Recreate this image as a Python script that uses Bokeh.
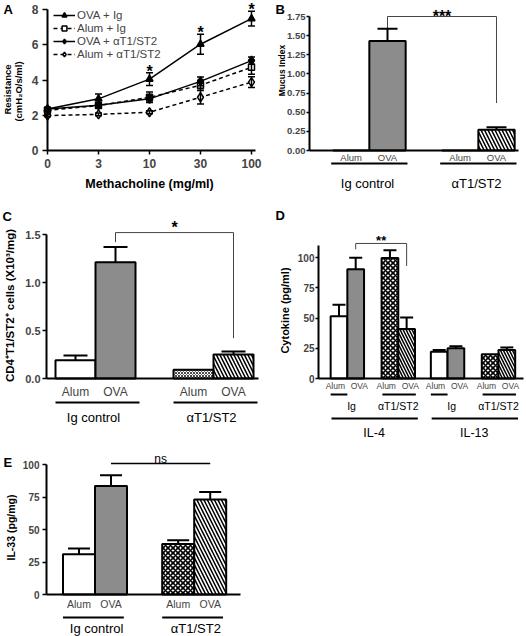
import math
from bokeh.plotting import figure
from bokeh.models import (ColumnDataSource, Range1d, LinearAxis, FixedTicker,
                          NumeralTickFormatter, Whisker, TeeHead, Legend, LegendItem)
from bokeh.layouts import column, row
from bokeh.core.properties import value, field
from bokeh.embed import file_html
from bokeh.resources import INLINE

FONT = "Liberation Sans"
GRAY = "#8c8c8c"

# ---------------- data ----------------
# A: airway resistance vs methacholine dose
doses = ["0", "3", "10", "30", "100"]
ova_ig = [2.35, 2.93, 4.05, 6.03, 7.48]
ova_ig_err = [0.10, 0.28, 0.36, 0.57, 0.42]
alum_ig = [2.28, 2.55, 3.02, 3.70, 4.72]
alum_ig_err = [0.08, 0.15, 0.30, 0.28, 0.40]
ova_at = [2.35, 2.57, 2.93, 3.92, 5.10]
ova_at_err = [0.08, 0.12, 0.18, 0.25, 0.20]
alum_at = [1.98, 2.05, 2.17, 3.02, 3.88]
alum_at_err = [0.06, 0.08, 0.08, 0.38, 0.30]
dose_sig = ["", "", "*", "*", "*"]
series_names = ["OVA + Ig", "Alum + Ig", "OVA + αT1/ST2", "Alum + αT1/ST2"]

conditions = ["Alum", "OVA"]
treatments = ["Ig control", "αT1/ST2"]

# B: mucus index
mucus = [0.0, 1.43, 0.0, 0.27]
mucus_err = [0.0, 0.16, 0.0, 0.035]
# C: CD4+T1/ST2+ cells
cd4 = [0.19, 1.21, 0.09, 0.25]
cd4_err = [0.05, 0.16, 0.0, 0.03]
# D: cytokines
cytokines = ["IL-4", "IL-13"]
treatments_short = ["Ig", "αT1/ST2"]
cytokine = [51.5, 90.3, 99.5, 41.0, 22.2, 24.9, 20.0, 23.5]
cytokine_err = [9.4, 9.5, 6.5, 9.4, 1.3, 1.7, 0.0, 2.2]
# E: IL-33
il33 = [31.0, 83.5, 38.8, 73.0]
il33_err = [4.4, 8.2, 3.0, 5.9]


# ---------------- helpers ----------------
def make_panel(L, T, W, H, px0, dx0, sx, py0, dy0, sy):
    x0 = dx0 - (px0 - L) / sx
    y1 = dy0 + (py0 - T) / sy
    p = figure(width=W, height=H, x_range=Range1d(x0, x0 + W / sx),
               y_range=Range1d(y1 - H / sy, y1), x_axis_type=None, y_axis_type=None,
               toolbar_location=None, output_backend="svg", min_border=0,
               outline_line_color=None)
    fx = lambda px: dx0 + (px - px0) / sx
    fy = lambda py: dy0 + (py0 - py) / sy
    return p, fx, fy


def txt(p, x, y, s, size, bold=False, align="center", baseline="middle", angle=0.0):
    p.text(x=[x], y=[y], text=[s], text_font=value(FONT),
           text_font_size=value(f"{size}px"),
           text_font_style="bold" if bold else "normal",
           text_align=align, text_baseline=baseline, angle=angle, text_color="black")


def y_axis(p, loc, bounds, ticks, fmt, size, tick_out, standoff):
    ax = LinearAxis(fixed_location=loc, bounds=bounds,
                    ticker=FixedTicker(ticks=ticks, minor_ticks=[]),
                    formatter=NumeralTickFormatter(format=fmt))
    ax.major_tick_out = tick_out
    ax.major_tick_in = 0
    ax.minor_tick_out = 0
    ax.minor_tick_in = 0
    ax.axis_line_width = 2
    ax.major_tick_line_width = 1.5
    ax.major_label_text_font = FONT
    ax.major_label_text_font_style = "bold"
    ax.major_label_text_font_size = f"{size}px"
    ax.major_label_standoff = standoff
    p.add_layout(ax, "left")
    return ax


def x_axis(p, bounds, ticks, labels, size, standoff, bold=False, tick_out=0):
    ax = LinearAxis(fixed_location=0, bounds=bounds,
                    ticker=FixedTicker(ticks=ticks, minor_ticks=[]))
    ax.major_label_overrides = {t: l for t, l in zip(ticks, labels)}
    ax.major_tick_out = tick_out
    ax.major_tick_in = 0
    ax.minor_tick_out = 0
    ax.minor_tick_in = 0
    ax.axis_line_width = 2
    ax.major_tick_line_width = 1.5
    ax.major_label_text_font = FONT
    ax.major_label_text_font_style = "bold" if bold else "normal"
    ax.major_label_text_font_size = f"{size}px"
    ax.major_label_standoff = standoff
    p.add_layout(ax, "below")
    return ax


def draw_bars(p, xs, tops, errs, groups, conds, cap, xscale, dscale, xweight=1.6):
    fills, pats, hs, hw = [], [], [], []
    for g, c in zip(groups, conds):
        if g == 0:
            fills.append("white" if c == 0 else GRAY)
            pats.append(" ")
            hs.append(6)
            hw.append(1)
        else:
            fills.append("white")
            if c == 0:
                pats.append("x")
                hs.append(xscale)
                hw.append(xweight)
            else:
                pats.append("\\")
                hs.append(dscale)
                hw.append(1.5)
    src = ColumnDataSource(dict(x=xs, top=tops, fill=fills, pat=pats, hs=hs, hw=hw))
    p.vbar(x="x", top="top", width=1.0, bottom=0, source=src, fill_color="fill",
           line_color="black", line_width=2, hatch_pattern=field("pat"),
           hatch_color="black", hatch_scale="hs", hatch_weight="hw")
    ex = [x for x, e in zip(xs, errs) if e > 0]
    lo = [t for t, e in zip(tops, errs) if e > 0]
    hi = [t + e for t, e in zip(tops, errs) if e > 0]
    esrc = ColumnDataSource(dict(x=ex, lo=lo, hi=hi))
    p.add_layout(Whisker(base="x", lower="lo", upper="hi", source=esrc, level="annotation",
                         line_width=2, line_color="black",
                         upper_head=TeeHead(size=cap, line_width=2, line_color="black"),
                         lower_head=None))


def group_marks(p, centers, rel, ul_y, lab_rel, lab_y, labels, size, lw=2):
    p.segment(x0=[c + rel[0] for c in centers], y0=[ul_y] * len(centers),
              x1=[c + rel[1] for c in centers], y1=[ul_y] * len(centers),
              line_width=lw, line_color="black")
    p.text(x=[c + lab_rel for c in centers], y=[lab_y] * len(centers), text=labels,
           text_font=value(FONT), text_font_size=value(f"{size}px"),
           text_align="center", text_baseline="middle", text_color="black")


# ---------------- Panel A ----------------
pA, fxA, fyA = make_panel(0, 0, 270, 200, 47, 0, 51.0, 150, 0, 17.625)
xsA = list(range(len(doses)))
specs = [(ova_ig, ova_ig_err, "solid", "triangle", "black", 7),
         (alum_ig, alum_ig_err, "4 3", "square", "white", 6),
         (ova_at, ova_at_err, "solid", "diamond", "black", 9),
         (alum_at, alum_at_err, "4 3", "diamond", "white", 9)]
items = []
for name, (ys, es, dash, marker, fill, size) in zip(series_names, specs):
    src = ColumnDataSource(dict(x=xsA, y=ys, lo=[y - e for y, e in zip(ys, es)],
                                hi=[y + e for y, e in zip(ys, es)]))
    pA.add_layout(Whisker(base="x", lower="lo", upper="hi", source=src, level="annotation",
                          line_width=1.5, line_color="black",
                          upper_head=TeeHead(size=7, line_width=1.5),
                          lower_head=TeeHead(size=7, line_width=1.5)))
    lr = pA.line("x", "y", source=src, line_width=1.5, line_color="black", line_dash=dash)
    sr = pA.scatter("x", "y", source=src, marker=marker, size=size, fill_color=fill,
                    line_color="black", line_width=1.5)
    items.append(LegendItem(label=name, renderers=[lr, sr]))

y_axis(pA, 0, (0, 8), [0, 2, 4, 6, 8], "0", 12, 5, 4)
x_axis(pA, (0, fxA(255)), xsA, doses, 12, 4, bold=True, tick_out=4)

sx_ = [i for i, s in enumerate(dose_sig) if s]
pA.text(x=sx_, y=[ova_ig[i] + ova_ig_err[i] + 0.1 for i in sx_],
        text=[dose_sig[i] for i in sx_], text_font=value(FONT),
        text_font_size=value("16px"), text_font_style="bold",
        text_align="center", text_baseline="middle")

txt(pA, fxA(3), fyA(1), "A", 13, bold=True, align="left", baseline="top")
txt(pA, fxA(7), fyA(89), "Resistance", 9.5, bold=True, angle=math.pi / 2)
txt(pA, fxA(18), fyA(91), "(cmH₂O/s/ml)", 9.5, bold=True, angle=math.pi / 2)
txt(pA, fxA(149), fyA(183), "Methacholine (mg/ml)", 12.5, bold=True)

legA = Legend(items=items, location=(53, 140), padding=0, spacing=1, margin=0,
              label_height=12, glyph_height=12, glyph_width=22, label_standoff=2,
              label_text_font=FONT, label_text_font_size="11.5px",
              border_line_color=None, background_fill_alpha=0)
pA.add_layout(legA)

# ---------------- Panel B ----------------
pB, fxB, fyB = make_panel(270, 0, 256, 200, 387, 1, 36.333, 150, 0, 76.571)
gB = [g for g in range(2) for j in range(2)]
cB = [j for g in range(2) for j in range(2)]
xB = [j + g * 3.0 for g, j in zip(gB, cB)]
draw_bars(pB, xB, mucus, mucus_err, gB, cB, 20, 5, 7)
y_axis(pB, fxB(309), (0, 1.75), [0, 0.25, 0.5, 0.75, 1.0, 1.25, 1.5, 1.75], "0.00", 9.5, 3, 1)
x_axis(pB, (fxB(309), fxB(518)), xB, [conditions[c] for c in cB], 9.5, 1)
group_marks(pB, [0.0, 3.0], (-0.55, 1.55), fyB(163), 0.45, fyB(183), treatments, 13)
pB.line(x=[xB[1], xB[1], xB[3], xB[3]],
        y=[mucus[1] + mucus_err[1], 1.75, 1.75, 0.62], line_width=1, line_color="#444444")
txt(pB, (xB[1] + xB[3]) / 2, fyB(16), "***", 16, bold=True)
txt(pB, fxB(275), fyB(1), "B", 13, bold=True, align="left", baseline="top")
txt(pB, fxB(281), fyB(70), "Mucus Index", 8.5, bold=True, angle=math.pi / 2)

# ---------------- Panel C ----------------
pC, fxC, fyC = make_panel(0, 200, 270, 240, 75, 0, 40.0, 378, 0, 96.0)
xC = [j + g * 2.95 for g, j in zip(gB, cB)]
draw_bars(pC, xC, cd4, cd4_err, gB, cB, 24, 3, 7, xweight=0.7)
y_axis(pC, fxC(46), (0, 1.5), [0, 0.5, 1.0, 1.5], "0.0", 11, 4, 2)
x_axis(pC, (fxC(46), fxC(258)), xC, [conditions[c] for c in cB], 12, 6)
group_marks(pC, [0.0, 2.95], (-0.5, 1.6), fyC(402), 0.45, fyC(417), treatments, 13)
pC.line(x=[xC[1], xC[1], xC[3], xC[3]],
        y=[cd4[1] + cd4_err[1] + 0.05, 1.52, 1.52, 0.42], line_width=1, line_color="#444444")
txt(pC, (xC[1] + xC[3]) / 2, fyC(226.5), "*", 16, bold=True)
txt(pC, fxC(2), fyC(208), "C", 13, bold=True, align="left", baseline="top")
txt(pC, fxC(9), fyC(305), "CD4⁺T1/ST2⁺ cells (X10³/mg)", 11.5, bold=True, angle=math.pi / 2)

# ---------------- Panel D ----------------
pD, fxD, fyD = make_panel(270, 200, 256, 240, 338.5, 0, 16.7, 378, 0, 1.21)
cD = [c for c in range(2) for g in range(2) for j in range(2)]
gD = [g for c in range(2) for g in range(2) for j in range(2)]
jD = [j for c in range(2) for g in range(2) for j in range(2)]
xD = [round(j + g * 3.05 + c * 6.0, 3) for c, g, j in zip(cD, gD, jD)]
draw_bars(pD, xD, cytokine, cytokine_err, gD, jD, 13, 5, 6)
y_axis(pD, fxD(318), (0, 110), [0, 25, 50, 75, 100], "0", 10, 3, 1)
labD = [round(x + (-0.22 if j == 0 else 0.22), 3) for x, j in zip(xD, jD)]
x_axis(pD, (fxD(318), fxD(523)), labD, [conditions[j] for j in jD], 8.5, 2)
for g, rel, lab_rel in [(0, (-0.5, 0.5), 0.75), (1, (-0.45, 1.55), 0.5)]:
    centers = [c * 6.0 + g * 3.05 for c in range(2)]
    group_marks(pD, centers, rel, fyD(394), lab_rel, fyD(405),
                [treatments_short[g]] * 2, 10.5)
group_marks(pD, [0.0, 6.0], (-0.45, 4.72), fyD(418), 2.1, fyD(432), cytokines, 12.5)
pD.line(x=[xD[1], xD[1], xD[3], xD[3]],
        y=[cytokine[1] + cytokine_err[1] + 7, 111.6, 111.6, 93], line_width=1,
        line_color="#444444")
txt(pD, (xD[1] + xD[3]) / 2, fyD(240), "**", 13, bold=True)
txt(pD, fxD(275), fyD(207), "D", 13, bold=True, align="left", baseline="top")
txt(pD, fxD(284), fyD(310), "Cytokine (pg/ml)", 11, bold=True, angle=math.pi / 2)

# ---------------- Panel E ----------------
pE, fxE, fyE = make_panel(0, 440, 270, 196, 78.5, 0, 32.0, 594, 0, 1.3)
xE = [round(j + g * 3.1, 3) for g, j in zip(gB, cB)]
draw_bars(pE, xE, il33, il33_err, gB, cB, 22, 5, 7)
y_axis(pE, fxE(46), (0, 100), [0, 25, 50, 75, 100], "0", 10, 4, 3)
x_axis(pE, (fxE(46), fxE(240)), xE, [conditions[c] for c in cB], 10.5, 3)
group_marks(pE, [0.0, 3.1], (-0.5, 1.4), fyE(617), 0.55, fyE(628), treatments, 13)
pE.line(x=[xE[1], xE[3]], y=[fyE(463), fyE(463)], line_width=1.5, line_color="black")
txt(pE, (xE[1] + xE[3]) / 2, fyE(458), "ns", 12, baseline="alphabetic")
txt(pE, fxE(3), fyE(454), "E", 13, bold=True, align="left", baseline="top")
txt(pE, fxE(10), fyE(527), "IL-33 (pg/mg)", 10.5, bold=True, angle=math.pi / 2)

layout = column(row(pA, pB), row(pC, pD), row(pE))
open("out.html", "w").write(file_html(layout, INLINE))
